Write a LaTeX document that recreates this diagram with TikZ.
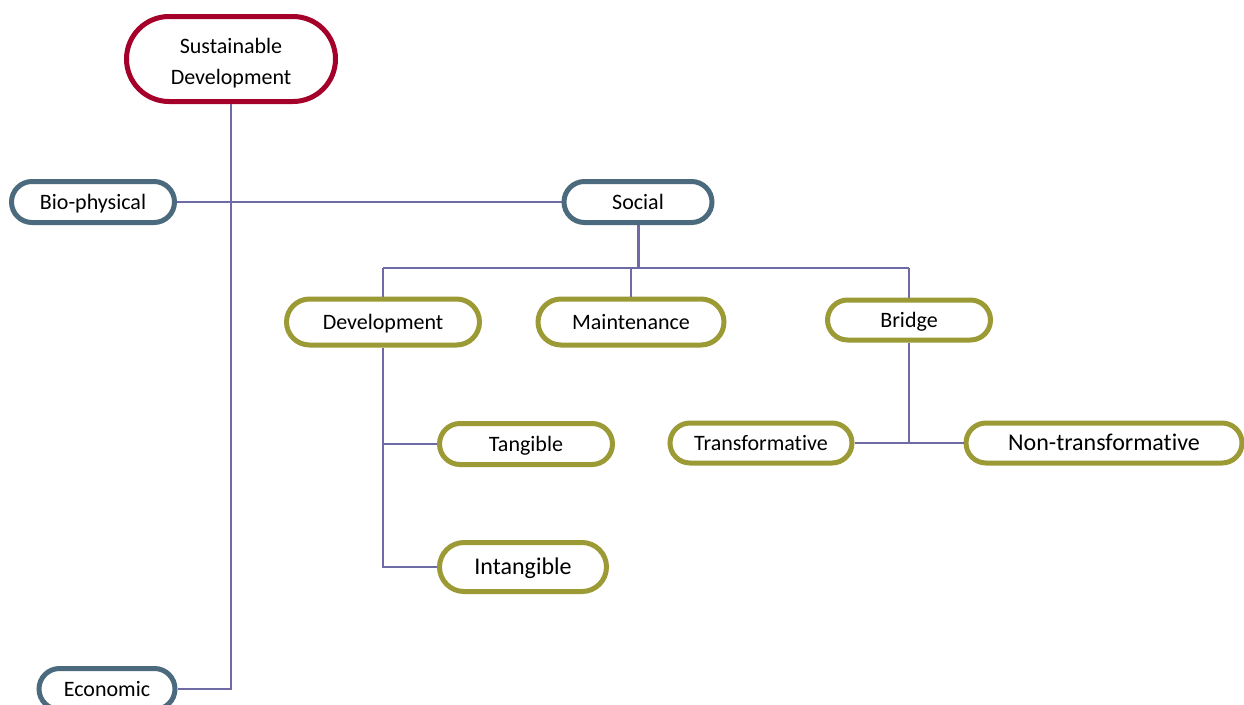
\documentclass[tikz,border=0pt]{standalone}
\usepackage{fontspec}
\setmainfont{Carlito}[Ligatures=NoCommon]
\usetikzlibrary{shapes.misc}
\definecolor{sdred}{HTML}{A5002A}
\definecolor{bgrey}{HTML}{4C6A7E}
\definecolor{olive}{HTML}{9C9A35}
\definecolor{conn}{HTML}{6E6AA5}
\tikzset{
  pill/.style={rounded rectangle, draw, line width=5pt, fill=white, inner sep=0pt, font=\fontsize{22}{31}\selectfont, align=center, text height=18pt, text depth=3pt},
  redpill/.style={pill, draw=sdred},
  bluepill/.style={pill, draw=bgrey},
  olivepill/.style={pill, draw=olive},
  link/.style={draw=conn, line width=2pt},
}
\begin{document}
\begin{tikzpicture}[x=1pt,y=-1pt]
\useasboundingbox (0,0) rectangle (1244,704);
\coordinate (socJ) at (638,268);

\node[redpill, minimum width=209pt, minimum height=85pt, text height=, text depth=] (sd) at (231,59) {\rule{0pt}{23pt}Sustainable\\Development};
\node[bluepill, minimum width=163pt, minimum height=41pt] (bio) at (93,202) {Bio-physical};
\node[bluepill, minimum width=148pt, minimum height=41pt] (soc) at (638,202) {Social};
\node[bluepill, minimum width=136pt, minimum height=41pt] (eco) at (107,689) {Economic};
\node[olivepill, minimum width=193pt, minimum height=46pt] (dev) at (383,322) {Development};
\node[olivepill, minimum width=186pt, minimum height=46pt] (main) at (631,322) {Maintenance};
\node[olivepill, minimum width=163pt, minimum height=40pt] (br) at (909,320) {Bridge};
\node[olivepill, minimum width=173pt, minimum height=41pt] (tan) at (526,444) {Tangible};
\node[olivepill, minimum width=167pt, minimum height=49pt, font=\fontsize{24}{30}\selectfont] (int) at (523,567) {Intangible};
\node[olivepill, minimum width=182pt, minimum height=40pt] (tra) at (761,443) {Transformative};
\node[olivepill, minimum width=276pt, minimum height=40pt, font=\fontsize{24}{30}\selectfont] (non) at (1104,443) {Non-transformative};

\path[link] (sd.south) -- (sd.south |- eco.east) -- (eco.east);
\path[link] (bio.east) -- (soc.west);
\path[link, line width=3pt] (soc.south) -- (socJ);
\path[link] (dev.north |- socJ) -- (br.north |- socJ);
\path[link] (dev.north |- socJ) -- (dev.north);
\path[link] (main.north |- socJ) -- (main.north);
\path[link] (br.north |- socJ) -- (br.north);
\path[link] (dev.south) -- (dev.south |- int.west) -- (int.west);
\path[link] (dev.south |- tan.west) -- (tan.west);
\path[link] (br.south) -- (br.south |- tra.east);
\path[link] (tra.east) -- (non.west);
\end{tikzpicture}
\end{document}
